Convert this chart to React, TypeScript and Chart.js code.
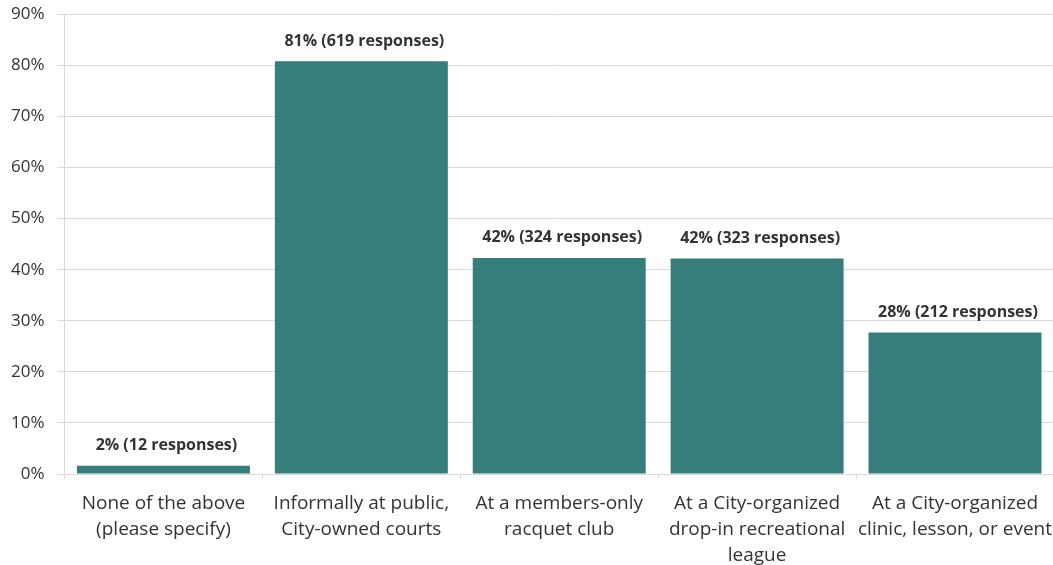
import React, { useEffect, useRef } from "react";
import { Chart, registerables } from "chart.js";

Chart.register(...registerables);

const categories: string[][] = [
  ["None of the above", "(please specify)"],
  ["Informally at public,", "City-owned courts"],
  ["At a members-only", "racquet club"],
  ["At a City-organized", "drop-in recreational", "league"],
  ["At a City-organized", "clinic, lesson, or event"],
];
const percentValues: number[] = [1.6, 80.8, 42.3, 42.2, 27.7];
const responses: number[] = [12, 619, 324, 323, 212];
const roundedPercents: number[] = [2, 81, 42, 42, 28];
const yTicks: number[] = [0, 10, 20, 30, 40, 50, 60, 70, 80, 90];

const FONT = "'Open Sans', 'Noto Sans', sans-serif";
const CANVAS_W = 1067;
const CANVAS_H = 589;

const labelPlugin = {
  id: "barLabels",
  afterDatasetsDraw(chart: any) {
    const ctx = chart.ctx;
    const meta = chart.getDatasetMeta(0);
    ctx.save();
    ctx.font = `bold 16px ${FONT}`;
    ctx.fillStyle = "#333333";
    ctx.textAlign = "center";
    ctx.textBaseline = "middle";
    meta.data.forEach((bar: any, i: number) => {
      ctx.fillText(`${roundedPercents[i]}% (${responses[i]} responses)`, bar.x + 3, bar.y - 20);
    });
    ctx.restore();
  },
};

export default function App() {
  const ref = useRef<HTMLCanvasElement>(null);
  useEffect(() => {
    if (!ref.current) return;
    const chart = new Chart(ref.current, {
      type: "bar",
      data: {
        labels: categories,
        datasets: [
          {
            data: percentValues,
            backgroundColor: "#357E7B",
            barPercentage: 1,
            categoryPercentage: 0.874,
          },
        ],
      },
      options: {
        responsive: false,
        animation: false,
        maintainAspectRatio: false,
        layout: { padding: { top: 0, right: 0, left: 1, bottom: 0 } },
        plugins: { legend: { display: false }, tooltip: { enabled: false } },
        scales: {
          x: {
            grid: {
              drawOnChartArea: false,
              drawTicks: true,
              tickLength: 5,
              color: "#d9d9d9",
            },
            border: { color: "#d9d9d9" },
            ticks: {
              color: "#333333",
              font: { family: FONT, size: 19, lineHeight: 1.35 },
              maxRotation: 0,
              autoSkip: false,
              padding: 12,
            },
          },
          y: {
            min: 0,
            max: 90,
            afterBuildTicks: (axis: any) => {
              axis.ticks = yTicks.map((v) => ({ value: v }));
            },
            grid: { color: "#d9d9d9", tickLength: 7 },
            border: { color: "#d9d9d9" },
            ticks: {
              color: "#333333",
              font: { family: FONT, size: 17 },
              padding: 13,
              callback: (v: any) => `${v}%`,
            },
          },
        },
      },
      plugins: [labelPlugin],
    });
    return () => chart.destroy();
  }, []);
  return (
    <div
      style={{
        position: "absolute",
        left: 0,
        top: 0,
        width: 1053,
        height: 565,
        overflow: "hidden",
      }}
    >
      <canvas
        ref={ref}
        width={CANVAS_W}
        height={CANVAS_H}
        style={{ position: "absolute", left: -3, top: -9, width: CANVAS_W, height: CANVAS_H }}
      />
    </div>
  );
}
